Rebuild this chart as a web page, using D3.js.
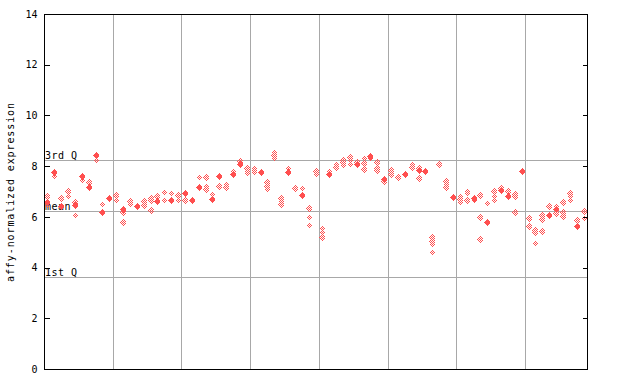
<!DOCTYPE html>
<html><head><meta charset="utf-8">
<script src="https://cdn.jsdelivr.net/npm/d3@7"></script>
<style>body{margin:0;background:#fff}</style>
</head><body>
<svg id="c" width="640" height="384"></svg>
<script>
// 79 samples; each has replicate values; 'f' = filled marker, 'h' = hatched marker
const sampleCount = 79;
const values = [
 [6.83,6.6,6.45],[7.75,7.63],[6.74,6.44],[7.03,6.83],[6.57,6.48,6.08],
 [7.6,7.46],[7.36,7.16],[8.45,8.23],[6.5,6.18],[6.73],
 [6.86,6.68],[6.32,6.21,5.8],[6.64,6.52],[6.41],[6.61,6.48],
 [6.74,6.65,6.28],[6.83,6.61],[6.98,6.68],[6.94,6.65],[6.86,6.66],
 [6.94,6.68],[6.65],[7.57,7.16],[7.57,7.23,7.1],[6.9,6.69],
 [7.6,7.23],[7.3,7.18],[7.79,7.7],[8.21,8.1],[7.93,7.79,7.73],
 [7.93,7.83,7.75],[7.75],[7.36,7.23,7.1],[8.54,8.45,8.34],[6.74,6.64,6.5],
 [7.93,7.75],[7.14],[7.14,6.85],[6.33,5.99,5.68],[7.82,7.7],
 [5.58,5.4,5.2],[7.79,7.69],[8.1,7.97],[8.23,8.15,8.06],[8.38,8.23,8.1],
 [8.16,8.1],[8.32,8.12,7.89],[8.41,8.33],[8.16,7.93,7.83],[7.49,7.4],
 [7.83,7.69],[7.57],[7.69],[8.08,7.97],[7.93,7.83,7.53],
 [7.79],[5.2,5.06,4.94,4.61],[8.08],[7.4,7.3,7.18],[6.77],
 [6.83,6.7,6.6],[7.03,6.94,6.68],[6.74,6.65],[6.87,5.99,5.14],[6.54,5.78],
 [7.03,6.81,6.65],[7.14,7.04],[7.03,6.81],[6.91,6.81,6.19],[7.82],
 [5.95,5.62],[5.49,5.39,4.97],[6.08,5.91,5.45],[6.41,6.08],[6.44,6.32,6.15],
 [6.59,6.21,6.02],[6.94,6.83,6.68],[5.88,5.62],[6.24,5.95]
];
const markers = [
 "hfh","fh","hf","hh","hfh",
 "fh","hf","fh","hf","f",
 "hh","fhh","hh","f","hh",
 "hhh","hf","hh","hf","hh",
 "fh","f","hf","hhh","hf",
 "fh","hh","hf","hf","hhh",
 "hhh","f","hhh","hhh","hhh",
 "hf","h","hf","hhh","hh",
 "hhh","hf","hh","hhh","hhh",
 "hf","hhh","fh","hhh","fh",
 "hh","h","f","hh","hfh",
 "f","hhhh","h","hhh","f",
 "hhh","hhh","fh","hhh","hf",
 "hhh","hf","hf","hhh","f",
 "hh","hhh","hhh","hf","hfh",
 "hhh","hhh","hf","hh"
];
const yTicks = [0,2,4,6,8,10,12,14];
const refLines = [{label:"3rd Q", v:8.24},{label:"mean", v:6.24},{label:"1st Q", v:3.64}];
const groupBreaks = [10,20,30,40,50,60,70];

const red = "#ff4f4f";
const svg = d3.select("#c");
const L=44, R=587, T=14, B=369;
const x = d3.scaleLinear().domain([0, sampleCount]).range([L, R]);
const y = d3.scaleLinear().domain([0, 14]).range([B, T]);

const defs = svg.append("defs");
const pat = defs.append("pattern").attr("id","hatch").attr("patternUnits","userSpaceOnUse")
  .attr("width",2).attr("height",2);
pat.append("rect").attr("x",0).attr("y",0).attr("width",1).attr("height",1).attr("fill",red);
pat.append("rect").attr("x",1).attr("y",1).attr("width",1).attr("height",1).attr("fill",red);

// grid
svg.append("g").selectAll("line").data(groupBreaks).join("line")
  .attr("x1",d=>Math.round(x(d))+0.5).attr("x2",d=>Math.round(x(d))+0.5)
  .attr("y1",T).attr("y2",B).attr("stroke","#a8a8a8").attr("shape-rendering","crispEdges");
svg.append("g").selectAll("line").data(refLines).join("line")
  .attr("x1",L).attr("x2",R).attr("y1",d=>Math.round(y(d.v))+0.5).attr("y2",d=>Math.round(y(d.v))+0.5)
  .attr("stroke","#a8a8a8").attr("shape-rendering","crispEdges");
svg.append("g").selectAll("text").data(refLines).join("text")
  .attr("x",L+1).attr("y",d=>Math.round(y(d.v))-1)
  .attr("font-family","DejaVu Sans Mono, monospace").attr("font-size",10).attr("letter-spacing",0.5)
  .attr("fill","#000").text(d=>d.label);

// points
const pts = [];
values.forEach((vs,i)=>vs.forEach((v,j)=>pts.push({i, v, m: markers[i][j]})));
pts.sort((a,b)=> (a.m==="f") - (b.m==="f"));
svg.append("g").selectAll("path").data(pts).join("path")
  .attr("d",d=>{const cx=Math.round(x(d.i+0.5)), cy=Math.round(y(d.v));
     return `M${cx+0.5},${cy-3}L${cx+3.5},${cy+0.5}L${cx+0.5},${cy+4}L${cx-2.5},${cy+0.5}Z`;})
  .attr("fill",d=>d.m==="f"?red:"url(#hatch)")
  .attr("shape-rendering","crispEdges");

// axes
const ax = d3.axisLeft(y).tickValues(yTicks).tickSize(-5).tickPadding(7).tickFormat(d3.format("d"));
const gA = svg.append("g").attr("transform",`translate(${L+0.5},0)`).call(ax);
gA.selectAll("text").attr("font-family","DejaVu Sans Mono, monospace").attr("font-size",10).attr("fill","#000");
gA.select(".domain").remove();
gA.selectAll("line").attr("stroke","#000").attr("shape-rendering","crispEdges");
const axR = d3.axisRight(y).tickValues(yTicks).tickSize(-5).tickFormat("");
const gR = svg.append("g").attr("transform",`translate(${R+0.5},0)`).call(axR);
gR.select(".domain").remove();
gR.selectAll("line").attr("stroke","#000").attr("shape-rendering","crispEdges");

svg.append("rect").attr("x",L+0.5).attr("y",T+0.5).attr("width",R-L).attr("height",B-T)
  .attr("fill","none").attr("stroke","#000").attr("shape-rendering","crispEdges");

svg.append("text").attr("transform",`translate(14,192) rotate(-90)`)
  .attr("text-anchor","middle").attr("font-family","DejaVu Sans Mono, monospace")
  .attr("font-size",10).attr("letter-spacing",0.9).attr("fill","#000")
  .text("affy-normalized expression");
</script>
</body></html>
